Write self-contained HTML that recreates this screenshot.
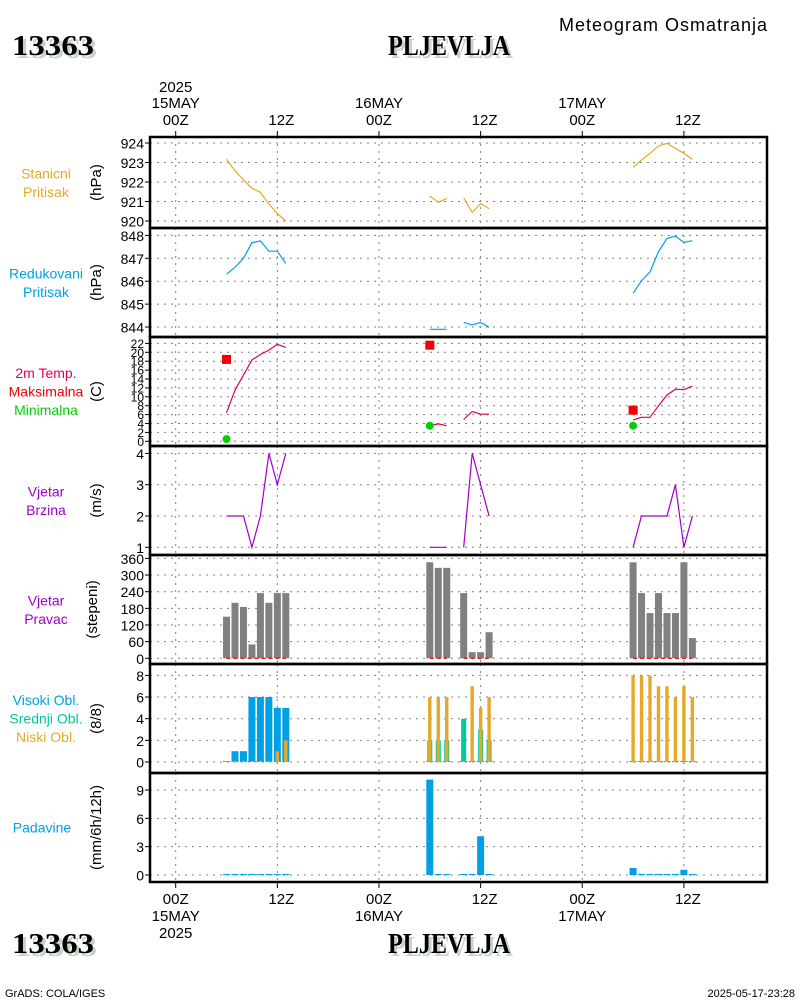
<!DOCTYPE html>
<html><head><meta charset="utf-8">
<style>
html,body{margin:0;padding:0;background:#fff;}
svg{display:block;font-family:"Liberation Sans",sans-serif;}
.ttl{font-family:"Liberation Serif",serif;font-weight:bold;font-size:29px;}
</style></head>
<body>
<svg id="chart" width="800" height="1000" viewBox="0 0 800 1000" xmlns="http://www.w3.org/2000/svg">
<rect x="0" y="0" width="800" height="1000" fill="#fff"/>
<g>
<text x="15" y="58" class="ttl" fill="#c5d5c5" textLength="82" lengthAdjust="spacingAndGlyphs">13363</text>
<text x="12" y="55" class="ttl" fill="#000" textLength="82" lengthAdjust="spacingAndGlyphs">13363</text></g>
<g>
<text x="391" y="58" class="ttl" fill="#c5d5c5" textLength="122" lengthAdjust="spacingAndGlyphs">PLJEVLJA</text>
<text x="388" y="55" class="ttl" fill="#000" textLength="122" lengthAdjust="spacingAndGlyphs">PLJEVLJA</text></g>
<text x="767" y="31" text-anchor="end" font-size="18" textLength="208">Meteogram Osmatranja</text>
<g>
<text x="15" y="956" class="ttl" fill="#c5d5c5" textLength="82" lengthAdjust="spacingAndGlyphs">13363</text>
<text x="12" y="953" class="ttl" fill="#000" textLength="82" lengthAdjust="spacingAndGlyphs">13363</text></g>
<g>
<text x="391" y="956" class="ttl" fill="#c5d5c5" textLength="122" lengthAdjust="spacingAndGlyphs">PLJEVLJA</text>
<text x="388" y="953" class="ttl" fill="#000" textLength="122" lengthAdjust="spacingAndGlyphs">PLJEVLJA</text></g>
<text x="5" y="997" font-size="11">GrADS: COLA/IGES</text>
<text x="795" y="997" font-size="11" text-anchor="end">2025-05-17-23:28</text>
<g id="panels"></g>
</svg>
<script>
// ---- data ----
const hours = [6,7,8,9,10,11,12,13, 30,31,32,33,34,35,36,37, 54,55,56,57,58,59,60,61];
const stanicni = [923.16,922.58,922.10,921.68,921.47,920.87,920.39,920.0, 921.28,920.96,921.16,null,921.18,920.44,920.9,920.63, 922.75,923.13,923.47,923.85,923.98,923.73,923.47,923.16];
const redukovani = [846.30,846.61,847.0,847.68,847.76,847.31,847.31,846.78, 843.9,843.9,843.9,null,844.2,844.09,844.2,843.99, 845.47,846.02,846.41,847.29,847.87,847.97,847.7,847.77];
const temp2m = [6.4,11.5,14.9,18.3,19.5,20.5,21.8,21.1, 3.5,3.9,3.5,null,4.9,6.7,6.1,6.1, 4.8,5.4,5.4,8.0,10.4,11.7,11.6,12.4];
const extremeHours = [6,30,54];
const tMax = [18.4,21.6,7.0];
const tMin = [0.5,3.5,3.5];
const windSpeed = [2,2,2,1,2,4,3,4, 1,1,1,null,1,4,3,2, 1,2,2,2,2,3,1,2];
const windDir = [150,200,185,50,235,200,235,235, 346,326,326,null,235,22,22,94, 346,235,163,235,163,163,346,73];
const cloudHigh = [0,1,1,6,6,6,5,5, 0,0,0,null,0,0,0,0, 0,0,0,0,0,0,0,0];
const cloudMid = [0,0,0,0,0,0,0,0, 2,2,2,null,4,0,3,2, 0,0,0,0,0,0,0,0];
const cloudLow = [0,0,0,0,0,0,1,2, 6,6,6,null,0,7,5,6, 8,8,8,7,7,6,7,6];
const precip = [0.1,0.1,0.1,0.1,0.1,0.1,0.1,0.1, 10.1,0.1,0.1,null,0.1,0.1,4.1,0.1, 0.75,0.1,0.1,0.1,0.1,0.1,0.55,0.1];
const gridHours = [0,12,24,36,48,60];
const topLabels = [["2025","15MAY","00Z"],["","","12Z"],["","16MAY","00Z"],["","","12Z"],["","17MAY","00Z"],["","","12Z"]];
const botLabels = [["00Z","15MAY","2025"],["12Z","",""],["00Z","16MAY",""],["12Z","",""],["00Z","17MAY",""],["12Z","",""]];

// ---- layout ----
const NS="http://www.w3.org/2000/svg";
const L=150, R=767;
const X = h => 175.7 + h*8.47;
const root=document.getElementById('panels');
function mk(tag,attrs,parent){const e=document.createElementNS(NS,tag);for(const k in attrs)e.setAttribute(k,attrs[k]);(parent||root).appendChild(e);return e;}
function lin(v0,y0,v1,y1){return v=>y0+(v-v0)*(y1-y0)/(v1-v0);}

const panels=[
 {name:'stanicni-pritisak',top:137,bot:228,ticks:[920,921,922,923,924],y:lin(920,221,924,143),unit:'(hPa)',labels:[['Stanicni','#e6a828'],['Pritisak','#e6a828']],fs:14},
 {name:'redukovani-pritisak',top:228,bot:337,ticks:[844,845,846,847,848],y:lin(844,327,848,235.4),unit:'(hPa)',labels:[['Redukovani','#00a0e6'],['Pritisak','#00a0e6']],fs:14},
 {name:'temperatura',top:337,bot:446,ticks:[0,2,4,6,8,10,12,14,16,18,20,22],y:lin(0,441.3,22,343.4),unit:'(C)',labels:[['2m Temp.','#e0005a'],['Maksimalna','#f00000'],['Minimalna','#00d000']],fs:12},
 {name:'vjetar-brzina',top:446,bot:555,ticks:[1,2,3,4],y:lin(1,547.3,4,453.4),unit:'(m/s)',labels:[['Vjetar','#a000c8'],['Brzina','#a000c8']],fs:14},
 {name:'vjetar-pravac',top:555,bot:664,ticks:[0,60,120,180,240,300,360],y:lin(0,658.3,360,558.4),unit:'(stepeni)',labels:[['Vjetar','#a000c8'],['Pravac','#a000c8']],fs:14},
 {name:'oblacnost',top:664,bot:773,ticks:[0,2,4,6,8],y:lin(0,762,8,675.4),unit:'(8/8)',labels:[['Visoki Obl.','#00a0e6'],['Srednji Obl.','#00c8a0'],['Niski Obl.','#e6a828']],fs:14},
 {name:'padavine',top:773,bot:882,ticks:[0,3,6,9],y:lin(0,875,9,790),unit:'(mm/6h/12h)',labels:[['Padavine','#00a0e6']],fs:14}
];

panels.forEach(p=>{
  const g=mk('g',{});
  
  
  p.ticks.forEach(t=>{
    const y=p.y(t);
    const gl=mk('line',{x1:L,x2:R,y1:y,y2:y,stroke:'#808080','stroke-width':1,'stroke-dasharray':'2,5'},g);
    
    
    mk('line',{x1:L-5,x2:L,y1:y,y2:y,stroke:'#000','stroke-width':1},g);
    const tx=mk('text',{x:L-6,y:y+p.fs/2-1.5,'text-anchor':'end','font-size':p.fs},g);
    tx.textContent=t;
    
    
  });
  gridHours.forEach(h=>{
    const vl=mk('line',{x1:X(h),x2:X(h),y1:p.top,y2:p.bot,stroke:'#808080','stroke-width':1,'stroke-dasharray':'2,5'},g);
    
    
  });
  const cy=(p.top+p.bot)/2;
  const ut=mk('text',{x:0,y:0,'text-anchor':'middle','font-size':15,transform:`translate(${p.name==='vjetar-pravac'?97:101},${cy}) rotate(-90)`},g);
  ut.textContent=p.unit;
  
  
  const n=p.labels.length, lh=18.5;
  p.labels.forEach((lb,i)=>{
    const t=mk('text',{x:p.name==='padavine'?42:46,y:cy-(n-1)*lh/2+i*lh+5,'text-anchor':'middle','font-size':14,fill:lb[1]},g);
    t.textContent=lb[0];
    
    
  });
  p.g=g;
});

function drawLine(p,vals,color,name){
  let d='',prevH=null;
  hours.forEach((h,i)=>{
    const v=vals[i];
    if(v===null){prevH=null;return;}
    d+=(prevH!==null&&h-prevH===1?'L':'M')+X(h).toFixed(1)+' '+p.y(v).toFixed(1)+' ';
    prevH=h;
  });
  const pa=mk('path',{d:d,fill:'none',stroke:color,'stroke-width':1.2},p.g);
  
  
}
function drawBars(p,vals,color,w,name,minH){
  const base=p.y(0);
  hours.forEach((h,i)=>{
    const v=vals[i]; if(v===null)return;
    let y=p.y(v), hh=base-y;
    if(hh<minH){if(minH===0)return;hh=minH;y=base-minH;}
    const r=mk('rect',{x:X(h)-w/2,y:y,width:w,height:hh,fill:color},p.g);
    
    
  });
}
drawLine(panels[0],stanicni,'#e6a828','stanicni-line');
drawLine(panels[1],redukovani,'#00a0e6','redukovani-line');
drawLine(panels[2],temp2m,'#d8005a','temp-line');
extremeHours.forEach((h,i)=>{
  const p=panels[2];
  const r=mk('rect',{x:X(h)-4.5,y:p.y(tMax[i])-4.5,width:9,height:9,fill:'#f00000'},p.g);
  
  
  const c=mk('circle',{cx:X(h),cy:p.y(tMin[i]),r:4,fill:'#00d000'},p.g);
  
  
});
drawLine(panels[3],windSpeed,'#a000c8','wind-speed-line');
drawBars(panels[4],windDir,'#808080',7,'wind-dir-bar',0);
(function(){
  const p=panels[4]; let s=null,prev=null;
  const segs=[];
  hours.forEach((h,i)=>{
    if(windDir[i]===null){if(s!==null)segs.push([s,prev]);s=null;prev=null;return;}
    if(s!==null && h-prev!==1){segs.push([s,prev]);s=null;}
    if(s===null)s=h; prev=h;
  });
  if(s!==null)segs.push([s,prev]);
  segs.forEach(sg=>{
    const l=mk('line',{x1:X(sg[0]),x2:X(sg[1]),y1:p.y(0),y2:p.y(0),stroke:'#f00000','stroke-width':1.2,'stroke-dasharray':'4,3'},p.g);
    
    
  });
})();
drawBars(panels[5],cloudHigh,'#00a0e6',7,'cloud-high-bar',1);
drawBars(panels[5],cloudMid,'#00c8a0',5,'cloud-mid-bar',1);
drawBars(panels[5],cloudLow,'#e6a828',3.4,'cloud-low-bar',1);
drawBars(panels[6],precip,'#00a0e6',7,'precip-bar',1);

panels.forEach(p=>{
  const r=mk('rect',{x:L,y:p.top,width:R-L,height:p.bot-p.top,fill:'none',stroke:'#000','stroke-width':2.5});
  
  
});
gridHours.forEach((h,i)=>{
  mk('line',{x1:X(h),x2:X(h),y1:131,y2:137,stroke:'#000','stroke-width':1});
  mk('line',{x1:X(h),x2:X(h),y1:882,y2:888,stroke:'#000','stroke-width':1});
  const cx=X(h)+(h%24===12?4:0);
  [92,108,125].forEach((yy,j)=>{
    if(!topLabels[i][j])return;
    const t=mk('text',{x:cx,y:yy,'text-anchor':'middle','font-size':15});
    t.textContent=topLabels[i][j];
    
    
  });
  [904,921,938].forEach((yy,j)=>{
    if(!botLabels[i][j])return;
    const t=mk('text',{x:cx,y:yy,'text-anchor':'middle','font-size':15});
    t.textContent=botLabels[i][j];
    
    
  });
});
</script>
</body></html>
